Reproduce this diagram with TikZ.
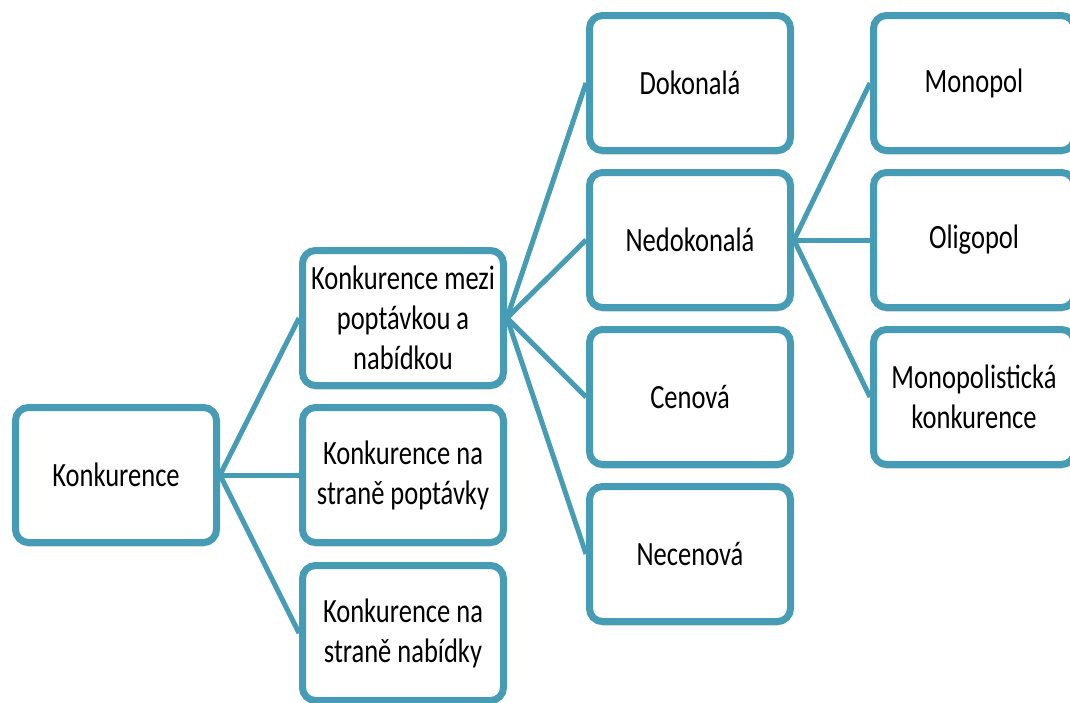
\documentclass[tikz,border=0pt]{standalone}
\usepackage{fontspec}
\setmainfont[FakeStretch=0.78]{Carlito}
\usetikzlibrary{shadows}

\definecolor{boxblue}{HTML}{459CB4}

\begin{document}
\begin{tikzpicture}[x=1pt, y=-1pt,
    box/.style={draw=boxblue, line width=7pt, fill=white, rounded corners=13pt,
      minimum width=201pt, minimum height=135pt, align=center,
      font=\fontsize{34}{40}\selectfont,
      drop shadow={opacity=0.3, shadow xshift=0pt, shadow yshift=-4pt}},
    link/.style={draw=boxblue, line width=5pt}]
  \clip (0,0) rectangle (1070,702);

  % koren
  \node[box] (konk) at (116, 475) {Konkurence};

  % druha uroven
  \node[box] (mezi)  at (403, 318) {Konkurence mezi\\poptávkou a\\nabídkou};
  \node[box] (popt)  at (403, 475) {Konkurence na\\straně poptávky};
  \node[box] (nabi)  at (403, 633) {Konkurence na\\straně nabídky};

  % treti uroven
  \node[box] (dok)   at (690, 83)  {Dokonalá};
  \node[box] (nedok) at (690, 240) {Nedokonalá};
  \node[box] (cen)   at (690, 397) {Cenová};
  \node[box] (necen) at (690, 554) {Necenová};

  % ctvrta uroven
  \node[box] (mono)  at (974, 83)  {Monopol};
  \node[box] (oligo) at (974, 240) {Oligopol};
  \node[box] (mkonk) at (974, 397) {Monopolistická\\konkurence};

  \draw[link] (konk.east) -- (mezi.west);
  \draw[link] (konk.east) -- (popt.west);
  \draw[link] (konk.east) -- (nabi.west);

  \draw[link] (mezi.east) -- (dok.west);
  \draw[link] (mezi.east) -- (nedok.west);
  \draw[link] (mezi.east) -- (cen.west);
  \draw[link] (mezi.east) -- (necen.west);

  \draw[link] (nedok.east) -- (mono.west);
  \draw[link] (nedok.east) -- (oligo.west);
  \draw[link] (nedok.east) -- (mkonk.west);
\end{tikzpicture}
\end{document}
